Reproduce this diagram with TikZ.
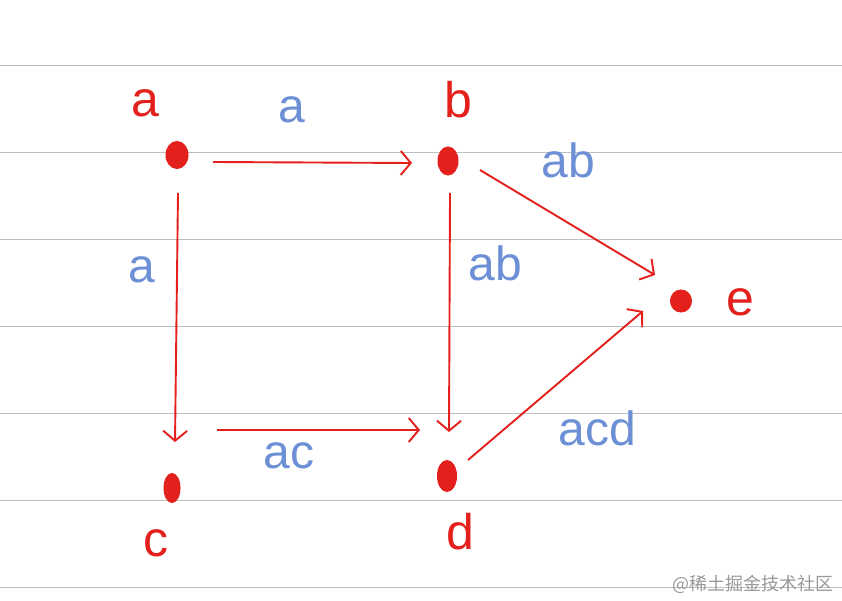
\documentclass[tikz,border=0pt]{standalone}
\usepackage{fontspec}
\setmainfont{Liberation Sans}
\newfontfamily\cjkfont{Noto Sans CJK SC}
\usetikzlibrary{arrows.meta,calc,shapes.geometric}
\definecolor{pen}{HTML}{E3201B}
\definecolor{ink}{HTML}{6C8FD6}
\definecolor{rule}{HTML}{BEBEBE}
\begin{document}
\begin{tikzpicture}[x=1pt,y=-1pt,
  dot/.style={ellipse,fill=pen,draw=pen,line width=1pt,inner sep=0pt},
  vname/.style={text=pen,font=\fontsize{50}{50}\selectfont,inner sep=0pt},
  elabel/.style={text=ink,font=\fontsize{48}{48}\selectfont,inner sep=0pt},
  edge/.style={draw=pen,line width=1.9pt,-{Straight Barb[length=10pt,width=24pt,line width=1.9pt]}},
  ruleline/.style={draw=rule,line width=1pt}]
\useasboundingbox (0,0) rectangle (842,601);
\fill[white] (0,0) rectangle (842,601);
\foreach \yy in {66,153,240,326,413,500,587}
  \draw[ruleline] (0,\yy) -- (842,\yy);
% vertices
\node[dot,minimum width=22pt,minimum height=27pt] (a) at (177,155) {};
\node[dot,minimum width=20pt,minimum height=28pt] (b) at (448,161) {};
\node[dot,minimum width=16pt,minimum height=29pt] (c) at (172,488) {};
\node[dot,minimum width=19pt,minimum height=31pt] (d) at (447,476) {};
\node[dot,minimum width=21pt,minimum height=22pt] (e) at (681,301) {};
% vertex names
\node[vname] (la) at (145,103) {a};
\node[vname] (lb) at (458,100) {b};
\node[vname] (lc) at (156,543) {c};
\node[vname] (ld) at (460,532) {d};
\node[vname] (le) at (740,302) {e};
% edges
\draw[edge] ($(a)+(36,7)$) -- ($(b)+(-36,2)$);
\draw[edge] ($(a)+(1,38)$) -- ($(c)+(3,-46)$);
\draw[edge] ($(b)+(2,32)$) -- ($(d)+(2,-44)$);
\draw[edge] ($(b)+(32,9)$) -- ($(e)+(-26,-26)$);
\draw[edge] ($(c)+(45,-58)$) -- ($(d)+(-27,-46)$);
\draw[edge] ($(d)+(21,-16)$) -- ($(e)+(-38,10)$);
% edge labels
\node[elabel] (tab) at (292,110) {a};
\node[elabel] (tac) at (142,270) {a};
\node[elabel] (tbd) at (495,263) {ab};
\node[elabel] (tbe) at (568,160) {ab};
\node[elabel] (tcd) at (289,456) {ac};
\node[elabel] (tde) at (597,428) {acd};
% watermark
\node[anchor=east,text=black!40,font=\cjkfont\fontsize{18}{18}\selectfont,inner sep=0pt] (wm) at (834,584) {@稀土掘金技术社区};
\end{tikzpicture}
\end{document}
